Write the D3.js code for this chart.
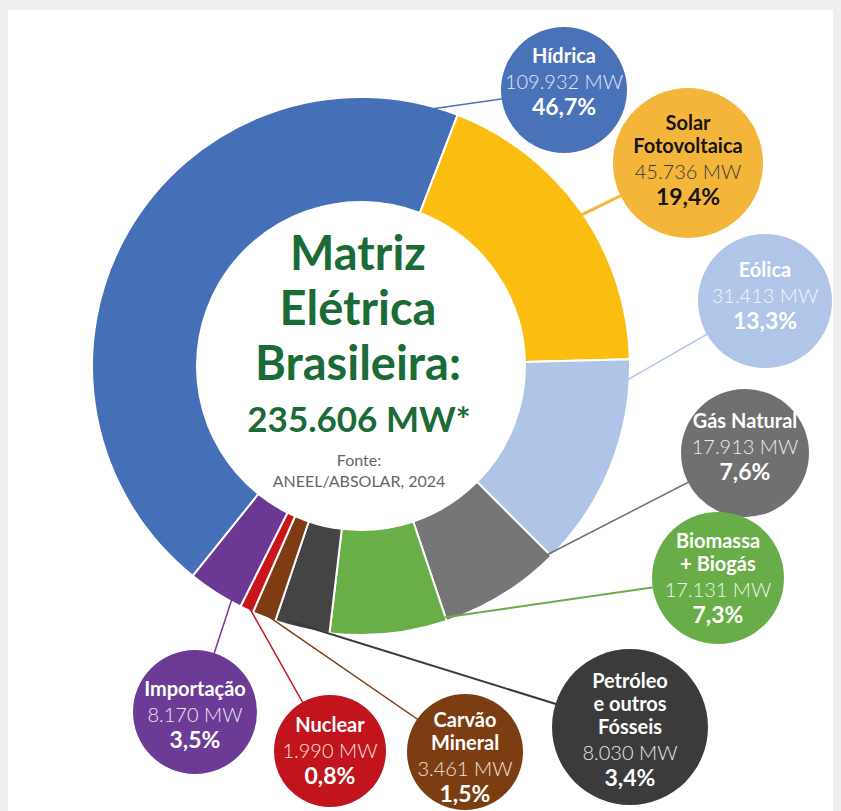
<!DOCTYPE html>
<html>
<head>
<meta charset="utf-8">
<script src="https://cdn.jsdelivr.net/npm/d3@7"></script>
<style>
  body { margin: 0; background: #eeeeee; }
  #chart { width: 841px; height: 811px; }
  text { font-family: Lato, "Open Sans", sans-serif; }
</style>
</head>
<body>
<div id="chart"></div>
<script>
// capacity by source (MW), order = order around the ring
var sources = ["Hídrica", "Solar Fotovoltaica", "Eólica", "Gás Natural", "Biomassa + Biogás",
               "Petróleo e outros Fósseis", "Carvão Mineral", "Nuclear", "Importação"];
var capacityMW = [109932, 45736, 31413, 17913, 17131, 8030, 3461, 1990, 8170];
var shareLabels = ["46,7%", "19,4%", "13,3%", "7,6%", "7,3%", "3,4%", "1,5%", "0,8%", "3,5%"];
var mwLabels = ["109.932 MW", "45.736 MW", "31.413 MW", "17.913 MW", "17.131 MW",
                "8.030 MW", "3.461 MW", "1.990 MW", "8.170 MW"];
var nameLines = [["Hídrica"], ["Solar", "Fotovoltaica"], ["Eólica"], ["Gás Natural"],
                 ["Biomassa", "+ Biogás"], ["Petróleo", "e outros", "Fósseis"],
                 ["Carvão", "Mineral"], ["Nuclear"], ["Importação"]];
var totalLabel = "235.606 MW*";
var titleLines = ["Matriz", "Elétrica", "Brasileira:"];
var sourceLines = ["Fonte:", "ANEEL/ABSOLAR, 2024"];

// styling
var sliceColors = ["#4570b8", "#fbbe10", "#afc4e6", "#767676", "#6aae47", "#444444", "#7f3c12", "#c8141b", "#6b3994"];
var bubbleColors = ["#4a72b9", "#f4b63a", "#b0c5e7", "#707070", "#69ad48", "#3b3b3b", "#7d3d12", "#c1141c", "#6c3b95"];
var nameColors = ["#fff", "#151515", "#fff", "#fff", "#fff", "#fff", "#fff", "#fff", "#fff"];
var valueColors = ["#e2e8f4", "#3a3a3a", "#f2f5fb", "#ececec", "#eef6ea", "#e8e8e8", "#f0e4dc", "#fbe2e2", "#ece4f3"];
// callout layout: bubble centre/radius, first baseline, where the leader leaves the slice (0..1)
var callouts = [
  {cx: 564, cy: 90,  r: 63, ty: 63,  t: 0.96, w: 1.5},
  {cx: 688, cy: 163, r: 75, ty: 130, t: 0.51, w: 3},
  {cx: 765, cy: 301, r: 67, ty: 277, t: 0.10, w: 1.5},
  {cx: 745, cy: 453, r: 64, ty: 428, t: 0.02, w: 1.5},
  {cx: 718, cy: 578, r: 66, ty: 548, t: 0.01, w: 2},
  {cx: 630, cy: 727, r: 78, ty: 688, t: 0.80, w: 2},
  {cx: 465, cy: 752, r: 58, ty: 727, t: 0.70, w: 1.5},
  {cx: 330, cy: 751, r: 56, ty: 732, t: 0.50, w: 1.5},
  {cx: 195, cy: 712, r: 62, ty: 696, t: 0.20, w: 1.5}
];

var width = 841, height = 811;
var cx = 361, cy = 366, outerR = 269, innerR = 164;

var svg = d3.select("#chart").append("svg")
  .attr("width", width)
  .attr("height", height);

svg.append("rect")
  .attr("x", 8).attr("y", 10)
  .attr("width", 825).attr("height", height - 10)
  .attr("fill", "#fff");

var start = -141.3 * Math.PI / 180;
var pie = d3.pie().sort(null).value(function(d) { return d; })
  .startAngle(start).endAngle(start + 2 * Math.PI);
var arcs = pie(capacityMW);

var arc = d3.arc().innerRadius(innerR).outerRadius(outerR);

var g = svg.append("g").attr("transform", "translate(" + cx + "," + cy + ")");

// leader lines (under everything)
var lines = svg.append("g");
arcs.forEach(function(a, i) {
  var c = callouts[i];
  var ang = a.startAngle + c.t * (a.endAngle - a.startAngle);
  var x0 = cx + Math.sin(ang) * (outerR - 4);
  var y0 = cy - Math.cos(ang) * (outerR - 4);
  lines.append("line")
    .attr("x1", x0).attr("y1", y0)
    .attr("x2", c.cx).attr("y2", c.cy)
    .attr("stroke", bubbleColors[i])
    .attr("stroke-width", c.w);
});

g.selectAll("path")
  .data(arcs)
  .enter().append("path")
  .attr("d", arc)
  .attr("fill", function(d, i) { return sliceColors[i]; })
  .attr("stroke", "#fff")
  .attr("stroke-width", 2);

// centre text
var green = "#1b6b36";
var title = svg.append("g").attr("text-anchor", "middle");
[270, 325, 380].forEach(function(y, i) {
  title.append("text").attr("x", 358).attr("y", y)
    .attr("font-size", 47).attr("font-weight", 700).attr("fill", green)
    .text(titleLines[i]);
});
title.append("text").attr("x", 359).attr("y", 432)
  .attr("font-size", 35).attr("font-weight", 700).attr("fill", green)
  .text(totalLabel);
[466, 487].forEach(function(y, i) {
  title.append("text").attr("x", 359).attr("y", y)
    .attr("font-size", 16).attr("fill", "#666")
    .text(sourceLines[i]);
});

// bubbles
var bub = svg.append("g").selectAll("g")
  .data(callouts)
  .enter().append("g");

bub.append("circle")
  .attr("cx", function(d) { return d.cx; })
  .attr("cy", function(d) { return d.cy; })
  .attr("r", function(d) { return d.r; })
  .attr("fill", function(d, i) { return bubbleColors[i]; });

bub.each(function(d, i) {
  var el = d3.select(this);
  var y = d.ty;
  nameLines[i].forEach(function(s, k) {
    if (k > 0) y += 23;
    el.append("text").attr("x", d.cx).attr("y", y)
      .attr("text-anchor", "middle").attr("font-size", 20).attr("font-weight", 700)
      .attr("fill", nameColors[i]).text(s);
  });
  y += 26;
  el.append("text").attr("x", d.cx).attr("y", y)
    .attr("text-anchor", "middle").attr("font-size", 20).attr("font-weight", 300)
    .attr("fill", valueColors[i]).text(mwLabels[i]);
  y += 26;
  el.append("text").attr("x", d.cx).attr("y", y)
    .attr("text-anchor", "middle").attr("font-size", 23).attr("font-weight", 700)
    .attr("fill", nameColors[i]).text(shareLabels[i]);
});
</script>
</body>
</html>
